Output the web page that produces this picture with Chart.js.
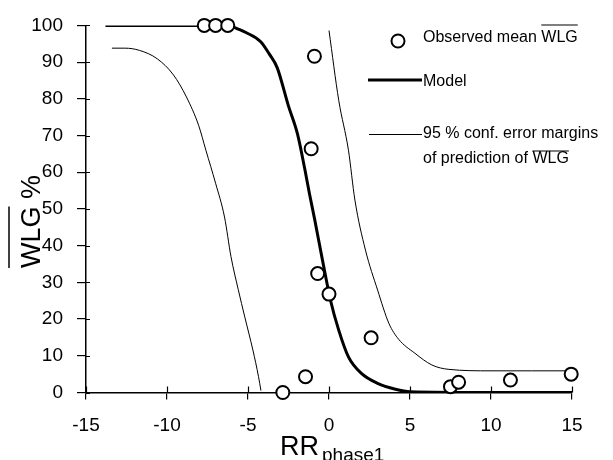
<!DOCTYPE html>
<html>
<head>
<meta charset="utf-8">
<script src="https://cdn.jsdelivr.net/npm/chart.js@4.4.1/dist/chart.umd.min.js"></script>
<style>
  html, body { margin: 0; padding: 0; background: #fff; }
  #wrap { width: 613px; height: 460px; }
</style>
</head>
<body>
<div id="wrap"><canvas id="chart" width="613" height="460"></canvas></div>
<script>
// Data
const obsX = [-7.7, -7.0, -6.25, -0.9, -1.1, -0.7, 0.0, 2.6, -1.45, -2.85, 7.5, 8.0, 11.2, 14.95];
const obsY = [100, 100, 100, 91.6, 66.4, 32.4, 26.8, 14.9, 4.3, 0, 1.6, 2.8, 3.4, 5.0];

const modelX = [-13.8, -7.0, -6.0, -5.6, -5.1, -4.2, -3.7, -3.2, -2.5, -1.95, -1.5, -1.2, -0.9, -0.4, 0.1, 0.6, 1.2, 2.0, 3.0, 4.1, 5.0, 10, 15];
const modelY = [100, 100, 99.7, 99, 98, 95.5, 92.3, 88.5, 78, 70.5, 61, 54, 47.5, 36, 25, 17, 9.7, 5.2, 2.5, 0.9, 0.2, 0, 0];

const lowX = [-13.4, -12.6, -11.7, -10.6, -9.6, -8.8, -8.05, -7.6, -7.0, -6.45, -6.05, -5.6, -5.2, -4.7, -4.35, -4.2];
const lowY = [93.8, 93.8, 93.2, 90.9, 86.5, 80.5, 72.8, 66, 57, 47.8, 37, 28, 20.6, 11.6, 4.3, 0.5];

const upX = [0.0, 0.6, 1.2, 1.6, 2.25, 3.0, 3.7, 4.3, 5.3, 6.35, 7.4, 10, 12.5, 14.8];
const upY = [98.6, 79.6, 66, 52.4, 38.8, 27.9, 18.8, 14.5, 10.7, 7.5, 6.3, 5.9, 5.9, 5.9];

const xTicks = [-15, -10, -5, 0, 5, 10, 15];
const yTicks = [0, 10, 20, 30, 40, 50, 60, 70, 80, 90, 100];

const FONT = "'Liberation Sans', Arial, sans-serif";
const pts = (xs, ys) => xs.map((x, i) => ({ x: x, y: ys[i] }));

// ticks that cross the axis lines (Chart.js only draws the outer half)
const innerTicks = {
  id: 'innerTicks',
  afterDraw(chart) {
    const { ctx, chartArea, scales } = chart;
    ctx.save();
    ctx.strokeStyle = '#000';
    ctx.lineWidth = 1.2;
    ctx.beginPath();
    yTicks.forEach(v => {
      const y = Math.round(scales.y.getPixelForValue(v)) + 0.5;
      ctx.moveTo(chartArea.left, y);
      ctx.lineTo(chartArea.left + 4, y);
    });
    xTicks.forEach(v => {
      const x = Math.round(scales.x.getPixelForValue(v)) + 0.5;
      ctx.moveTo(x, chartArea.bottom);
      ctx.lineTo(x, chartArea.bottom - 6);
    });
    ctx.stroke();
    ctx.restore();
  }
};

// axis titles with overline / subscript
const axisTitles = {
  id: 'axisTitles',
  afterDraw(chart) {
    const { ctx } = chart;
    ctx.save();
    ctx.fillStyle = '#000';
    ctx.strokeStyle = '#000';
    ctx.textBaseline = 'alphabetic';
    ctx.textAlign = 'left';

    // x title: RR with subscript phase1
    ctx.font = '27px ' + FONT;
    ctx.fillText('RR', 280, 455);
    const rrW = ctx.measureText('RR').width;
    ctx.font = '19px ' + FONT;
    ctx.fillText('phase1', 280 + rrW + 3, 461);

    // y title: WLG % rotated, overline on WLG
    ctx.translate(40, 268);
    ctx.rotate(-Math.PI / 2);
    ctx.font = '27px ' + FONT;
    ctx.fillText('WLG %', 0, 0);
    const w = ctx.measureText('WLG').width;
    ctx.lineWidth = 1.5;
    ctx.beginPath();
    ctx.moveTo(0, -31);
    ctx.lineTo(w, -31);
    ctx.stroke();
    ctx.restore();
  }
};

// legend drawn to the right of the curves
const customLegend = {
  id: 'customLegend',
  afterDraw(chart) {
    const { ctx } = chart;
    ctx.save();
    ctx.fillStyle = '#000';
    ctx.strokeStyle = '#000';
    ctx.font = '16px ' + FONT;
    ctx.textBaseline = 'middle';
    ctx.textAlign = 'left';

    // observed
    ctx.lineWidth = 2;
    ctx.beginPath();
    ctx.arc(398, 41, 6.5, 0, Math.PI * 2);
    ctx.fillStyle = '#fff';
    ctx.fill();
    ctx.stroke();
    ctx.fillStyle = '#000';
    const t1 = 'Observed mean ';
    ctx.fillText(t1 + 'WLG', 423, 38);
    let x0 = 423 + ctx.measureText(t1).width;
    let wl = ctx.measureText('WLG').width;
    ctx.lineWidth = 1.2;
    ctx.beginPath();
    ctx.moveTo(x0, 25);
    ctx.lineTo(x0 + wl, 25);
    ctx.stroke();

    // model
    ctx.lineWidth = 3;
    ctx.beginPath();
    ctx.moveTo(368, 80);
    ctx.lineTo(422, 80);
    ctx.stroke();
    ctx.fillText('Model', 423, 82);

    // error margins
    ctx.lineWidth = 1;
    ctx.beginPath();
    ctx.moveTo(369, 134.5);
    ctx.lineTo(422, 134.5);
    ctx.stroke();
    ctx.fillText('95 % conf. error margins', 423, 134);
    const t2 = 'of prediction of ';
    ctx.fillText(t2 + 'WLG', 423, 159);
    x0 = 423 + ctx.measureText(t2).width;
    ctx.lineWidth = 1.2;
    ctx.beginPath();
    ctx.moveTo(x0, 151);
    ctx.lineTo(x0 + wl, 151);
    ctx.stroke();
    ctx.restore();
  }
};

new Chart(document.getElementById('chart').getContext('2d'), {
  type: 'scatter',
  data: {
    datasets: [
      {
        label: 'Observed mean WLG',
        data: pts(obsX, obsY),
        showLine: false,
        pointStyle: 'circle',
        pointRadius: 6.5,
        pointBorderWidth: 2,
        pointBackgroundColor: '#fff',
        pointBorderColor: '#000',
        clip: false
      },
      {
        label: 'Model',
        data: pts(modelX, modelY),
        showLine: true,
        borderColor: '#000',
        borderWidth: 3,
        pointRadius: 0,
        cubicInterpolationMode: 'monotone'
      },
      {
        label: '95 % conf. error margins',
        data: pts(lowX, lowY),
        showLine: true,
        borderColor: '#000',
        borderWidth: 1,
        pointRadius: 0,
        cubicInterpolationMode: 'monotone'
      },
      {
        label: '95 % conf. upper',
        data: pts(upX, upY),
        showLine: true,
        borderColor: '#000',
        borderWidth: 1,
        pointRadius: 0,
        cubicInterpolationMode: 'monotone'
      }
    ]
  },
  options: {
    responsive: false,
    animation: false,
    events: [],
    layout: { padding: { left: 0, right: 41, top: 25, bottom: 0 } },
    plugins: {
      legend: { display: false },
      tooltip: { enabled: false },
      title: { display: false }
    },
    scales: {
      x: {
        type: 'linear',
        min: -15,
        max: 15,
        afterBuildTicks: s => { s.ticks = xTicks.map(v => ({ value: v })); },
        afterFit: s => { s.height = 67.5; },
        border: { display: true, color: '#000', width: 1.5 },
        grid: { drawOnChartArea: false, drawTicks: true, tickLength: 7, color: '#000', lineWidth: 1.2 },
        ticks: { color: '#000', font: { family: FONT, size: 19 }, padding: 15, maxRotation: 0 }
      },
      y: {
        type: 'linear',
        min: 0,
        max: 100,
        afterBuildTicks: s => { s.ticks = yTicks.map(v => ({ value: v })); },
        afterFit: s => { s.width = 86; },
        border: { display: true, color: '#000', width: 1.5 },
        grid: { drawOnChartArea: false, drawTicks: true, tickLength: 9, color: '#000', lineWidth: 1.2 },
        ticks: { color: '#000', font: { family: FONT, size: 19 }, padding: 14 }
      }
    }
  },
  plugins: [innerTicks, axisTitles, customLegend]
});
</script>
</body>
</html>
